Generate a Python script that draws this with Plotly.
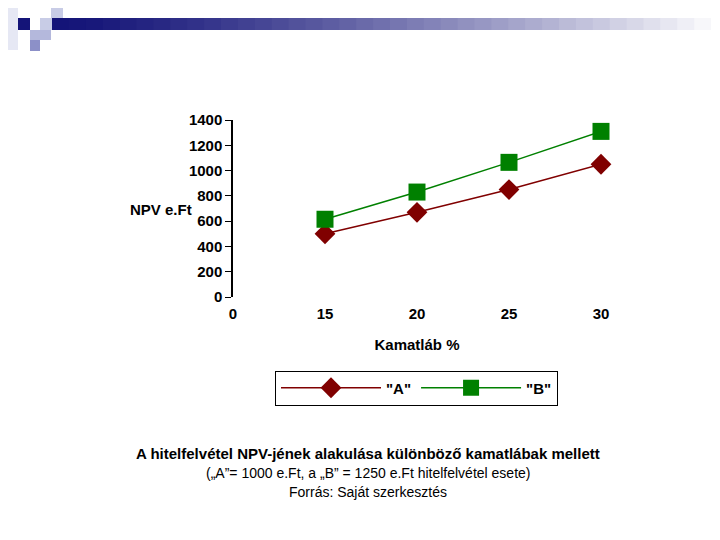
import plotly.graph_objects as go

rates = [15, 20, 25, 30]
npv_a = [500, 670, 850, 1050]
npv_b = [615, 830, 1065, 1310]
y_ticks = [0, 200, 400, 600, 800, 1000, 1200, 1400]
x_ticks = [0, 15, 20, 25, 30]

# the x axis is categorical in the original: labels evenly spaced
x_pos = [x_ticks.index(r) for r in rates]

fig = go.Figure()
fig.add_scatter(x=x_pos, y=npv_a, name='"A"', mode="lines+markers", cliponaxis=False,
                line=dict(color="#800000", width=1.5),
                marker=dict(symbol="diamond", size=16, color="#800000"))
fig.add_scatter(x=x_pos, y=npv_b, name='"B"', mode="lines+markers", cliponaxis=False,
                line=dict(color="#008000", width=1.5),
                marker=dict(symbol="square", size=17, color="#008000"))

tf = dict(size=15, family="Liberation Sans, Arial", color="black", weight="bold")
fig.update_layout(
    width=720, height=540, paper_bgcolor="white", plot_bgcolor="white",
    margin=dict(l=0, r=0, t=0, b=0), font=dict(family="Liberation Sans, Arial", size=15, color="black"),
    xaxis=dict(domain=[225/720, 593/720], range=[0, 4], tickvals=list(range(len(x_ticks))),
               ticktext=[str(v) for v in x_ticks], automargin=False,
               showline=False, showgrid=False, zeroline=False, ticks="", ticklabelstandoff=6,
               tickfont=tf,
               title=dict(text="<b>Kamatláb %</b>", font=dict(size=15), standoff=18)),
    yaxis=dict(domain=[1-289/540, 1-112/540], range=[0, 1400], tickvals=y_ticks, automargin=False,
               showline=True, linecolor="black", linewidth=1.5, showgrid=False,
               zeroline=False, ticks="outside", ticklen=6, tickcolor="black", tickfont=tf),
    legend=dict(orientation="h", x=(280+537)/2/720, xanchor="center", y=1-380/540,
                yanchor="middle", bordercolor="black", borderwidth=1,
                font=dict(size=15, family="Liberation Sans", weight="bold"), itemwidth=100),
    showlegend=True,
)

fig.add_annotation(text="<b>NPV e.Ft</b>", x=120/720, y=1-202/540, xref="paper", yref="paper",
                   showarrow=False, font=dict(size=15))
captions = ["<b>A hitelfelvétel NPV-jének alakulása különböző kamatlábak mellett</b>",
            "(„A”= 1000 e.Ft, a „B” = 1250 e.Ft hitelfelvétel esete)",
            "Forrás: Saját szerkesztés"]
for i, c in enumerate(captions):
    fig.add_annotation(text=c, x=360/720, y=1-(456+19*i)/540, xref="paper", yref="paper",
                       showarrow=False, font=dict(size=15 if i == 0 else 14))

# header decoration
def rect(x0, y0, x1, y1, col):
    fig.add_shape(type="rect", xref="paper", yref="paper", x0=x0/720, x1=x1/720,
                  y0=1-y1/540, y1=1-y0/540, fillcolor=col, line_width=0, layer="below")

rect(0, 0, 10, 42, "#e6e8f4")
rect(10, 10, 22, 22, "#141478")
rect(32, 10, 55, 22, "#c8cce6")
rect(43, 0, 55, 10, "#c8cce6")
rect(22, 22, 43, 32, "#b4b8dc")
rect(22, 32, 32, 43, "#8c90c8")
n = 40
for k in range(n):
    t = k / (n - 1)
    r = int(20 + (255 - 20) * t ** 1.3)
    g = int(20 + (255 - 20) * t ** 1.3)
    b = int(120 + (255 - 120) * t ** 1.3)
    x0 = 44 + k * (720 - 44) / n
    rect(x0, 10, x0 + (720 - 44) / n + 1, 22, f"rgb({r},{g},{b})")

fig.write_html("out.html")
